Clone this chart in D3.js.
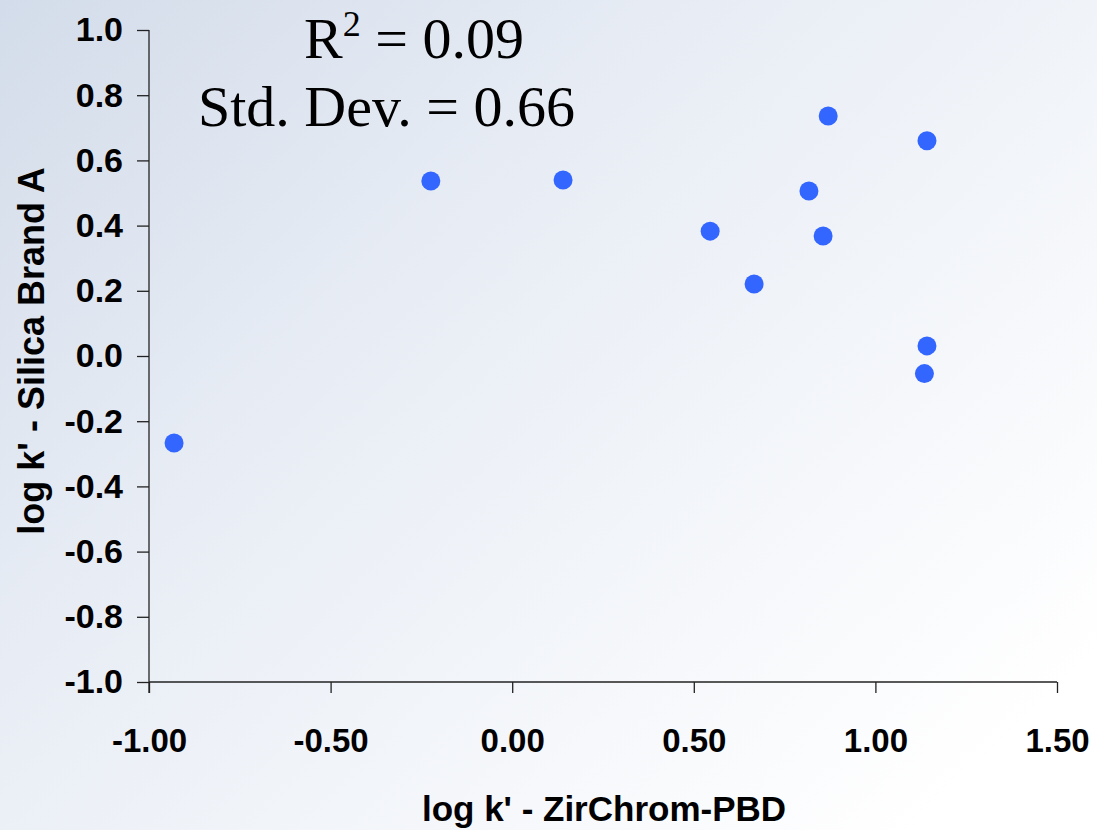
<!DOCTYPE html>
<html>
<head>
<meta charset="utf-8">
<script src="https://cdn.jsdelivr.net/npm/d3@7"></script>
<style>
html,body{margin:0;padding:0;}
svg{display:block;}
</style>
</head>
<body>
<svg id="chart" width="1097" height="830"></svg>
<script>
// Data
const xValues = [-0.931, -0.224, 0.140, 0.545, 0.666, 0.817, 0.870, 0.856, 1.142, 1.142, 1.135];
const yValues = [-0.267, 0.537, 0.540, 0.383, 0.221, 0.506, 0.736, 0.368, 0.660, 0.031, -0.054];
const xTicks = [-1.0, -0.5, 0.0, 0.5, 1.0, 1.5];
const yTicks = [-1.0, -0.8, -0.6, -0.4, -0.2, 0.0, 0.2, 0.4, 0.6, 0.8, 1.0];
const xTitle = "log k' - ZirChrom-PBD";
const yTitle = "log k' - Silica Brand A";
const statR2 = "0.09";
const statSD = "0.66";

(function(){
const svg = d3.select("#chart");
const W = 1097, H = 830;

// background gradient
const defs = svg.append("defs");
const grad = defs.append("linearGradient").attr("id","bg")
  .attr("x1","0").attr("y1","0").attr("x2","1").attr("y2","0.8");
grad.append("stop").attr("offset","0%").attr("stop-color","#d3dcea");
grad.append("stop").attr("offset","40%").attr("stop-color","#e8edf5");
grad.append("stop").attr("offset","100%").attr("stop-color","#ffffff");
svg.append("rect").attr("width",W).attr("height",H).attr("fill","url(#bg)");

const pL = 149, pR = 1057, pT = 30, pB = 682;
const x = d3.scaleLinear().domain([-1, 1.5]).range([pL, pR]);
const y = d3.scaleLinear().domain([-1, 1]).range([pB, pT]);

const axisColor = "#222";
const tickFont = "'Liberation Sans', Arial, sans-serif";
// x axis
const xAxis = d3.axisBottom(x).tickValues(xTicks).tickSize(11).tickPadding(36)
  .tickFormat(d3.format(".2f"));
const gx = svg.append("g").attr("transform",`translate(0,${y(-1)})`).call(xAxis);
gx.select(".domain").attr("stroke",axisColor).attr("stroke-width",1.3)
  .attr("d",`M${pL},0H${pR}`);
gx.selectAll(".tick line").attr("stroke",axisColor).attr("stroke-width",1.3);
gx.selectAll(".tick text").attr("fill","#000")
  .style("font-family",tickFont)
  .style("font-weight","bold").style("font-size","33px")
  .text(d => d3.format(".2f")(d).replace("\u2212","-"));

// y axis
const yAxis = d3.axisLeft(y).tickValues(yTicks).tickSize(12).tickPadding(14)
  .tickFormat(d3.format(".1f"));
const gy = svg.append("g").attr("transform",`translate(${x(-1)},0)`).call(yAxis);
gy.select(".domain").attr("stroke",axisColor).attr("stroke-width",1.3)
  .attr("d",`M0,${pB+11}V${pT}`);
gy.selectAll(".tick line").attr("stroke",axisColor).attr("stroke-width",1.3);
gy.selectAll(".tick text").attr("fill","#000")
  .style("font-family",tickFont)
  .style("font-weight","bold").style("font-size","34px")
  .text(d => d3.format(".1f")(d).replace("\u2212","-"));

// points
svg.append("g").selectAll("circle")
  .data(xValues.map((d,i)=>({x:d,y:yValues[i]})))
  .join("circle")
  .attr("cx",d=>x(d.x)).attr("cy",d=>y(d.y)).attr("r",9.5)
  .attr("fill","#3366ff");

// axis titles
svg.append("text").attr("x",604).attr("y",821)
  .attr("text-anchor","middle")
  .style("font-family",tickFont)
  .style("font-weight","bold").style("font-size","35px").attr("fill","#000")
  .text(xTitle);
svg.append("text").attr("transform",`translate(44,351)rotate(-90)`)
  .attr("text-anchor","middle")
  .style("font-family",tickFont)
  .style("font-weight","bold").style("font-size","36px").attr("fill","#000")
  .text(yTitle);

// stats annotation
const serif = "'Liberation Serif', 'Times New Roman', serif";
const t1 = svg.append("text").attr("x",304).attr("y",58)
  .style("font-family",serif).style("font-size","58px").attr("fill","#000");
t1.append("tspan").text("R");
t1.append("tspan").attr("dy",-22).style("font-size","36px").text("2");
t1.append("tspan").attr("dy",22).text(" = " + statR2);
svg.append("text").attr("x",198).attr("y",126)
  .style("font-family",serif).style("font-size","58px").attr("fill","#000")
  .text("Std. Dev. = " + statSD);
})();
</script>
</body>
</html>
